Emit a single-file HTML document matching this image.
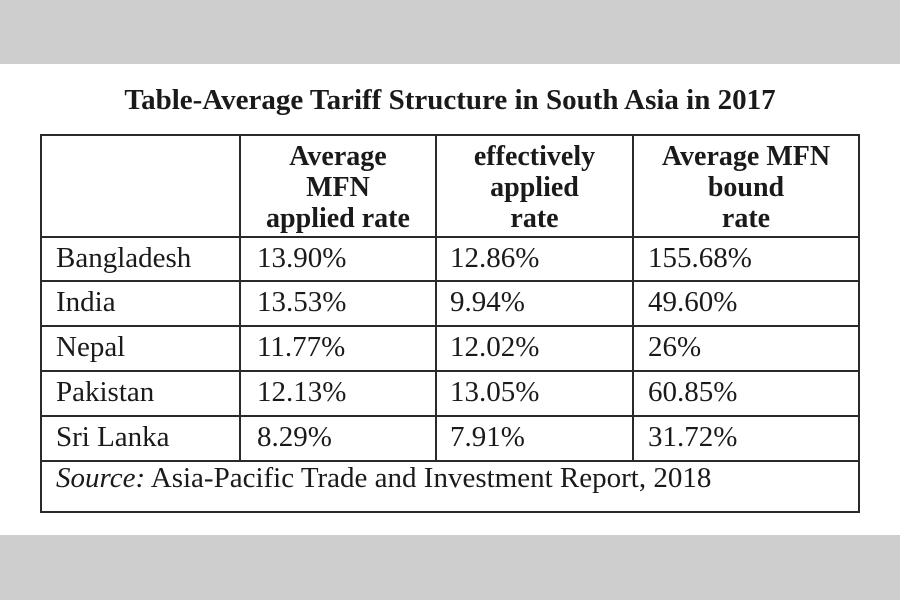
<!DOCTYPE html>
<html><head><meta charset="utf-8"><style>
body{margin:0;width:900px;height:600px;background:#fff;position:relative;overflow:hidden;font-family:"Liberation Serif",serif;color:#1a1a1a}
.g{position:absolute;left:0;width:900px;background:#cecece}
.t{position:absolute;white-space:nowrap}
.h{position:absolute;top:137px;height:100px;font-weight:bold;font-size:28px;line-height:31px;text-align:center;display:flex;align-items:center;justify-content:center}
.hl{position:absolute;height:2px;background:#2a2a2a}
.vl{position:absolute;width:2px;background:#2a2a2a}
.c{position:absolute;font-size:29px;line-height:45px;white-space:nowrap}
</style></head><body>
<div class="g" style="top:0;height:64px"></div>
<div class="g" style="top:535px;height:65px"></div>
<div class="t" style="left:0;width:900px;top:83px;text-align:center;font-weight:bold;font-size:29px;line-height:34px">Table-Average Tariff Structure in South Asia in 2017</div>
<div class="hl" style="left:40px;width:820px;top:134px"></div>
<div class="hl" style="left:40px;width:820px;top:236px"></div>
<div class="hl" style="left:40px;width:820px;top:280px"></div>
<div class="hl" style="left:40px;width:820px;top:325px"></div>
<div class="hl" style="left:40px;width:820px;top:370px"></div>
<div class="hl" style="left:40px;width:820px;top:415px"></div>
<div class="hl" style="left:40px;width:820px;top:460px"></div>
<div class="hl" style="left:40px;width:820px;top:511px"></div>
<div class="vl" style="left:40px;top:134px;height:379px"></div>
<div class="vl" style="left:858px;top:134px;height:379px"></div>
<div class="vl" style="left:239px;top:134px;height:328px"></div>
<div class="vl" style="left:435px;top:134px;height:328px"></div>
<div class="vl" style="left:632px;top:134px;height:328px"></div>
<div class="h" style="left:241px;width:194px">Average<br>MFN<br>applied rate</div>
<div class="h" style="left:437px;width:195px">effectively<br>applied<br>rate</div>
<div class="h" style="left:634px;width:224px">Average MFN<br>bound<br>rate</div>

<div class="c" style="left:56px;top:236px">Bangladesh</div>
<div class="c" style="left:257px;top:236px">13.90%</div>
<div class="c" style="left:450px;top:236px">12.86%</div>
<div class="c" style="left:648px;top:236px">155.68%</div>

<div class="c" style="left:56px;top:280px">India</div>
<div class="c" style="left:257px;top:280px">13.53%</div>
<div class="c" style="left:450px;top:280px">9.94%</div>
<div class="c" style="left:648px;top:280px">49.60%</div>

<div class="c" style="left:56px;top:325px">Nepal</div>
<div class="c" style="left:257px;top:325px">11.77%</div>
<div class="c" style="left:450px;top:325px">12.02%</div>
<div class="c" style="left:648px;top:325px">26%</div>

<div class="c" style="left:56px;top:370px">Pakistan</div>
<div class="c" style="left:257px;top:370px">12.13%</div>
<div class="c" style="left:450px;top:370px">13.05%</div>
<div class="c" style="left:648px;top:370px">60.85%</div>

<div class="c" style="left:56px;top:415px">Sri Lanka</div>
<div class="c" style="left:257px;top:415px">8.29%</div>
<div class="c" style="left:450px;top:415px">7.91%</div>
<div class="c" style="left:648px;top:415px">31.72%</div>

<div class="c" style="left:56px;top:456px"><i>Source:</i> Asia-Pacific Trade and Investment Report, 2018</div>
</body></html>
